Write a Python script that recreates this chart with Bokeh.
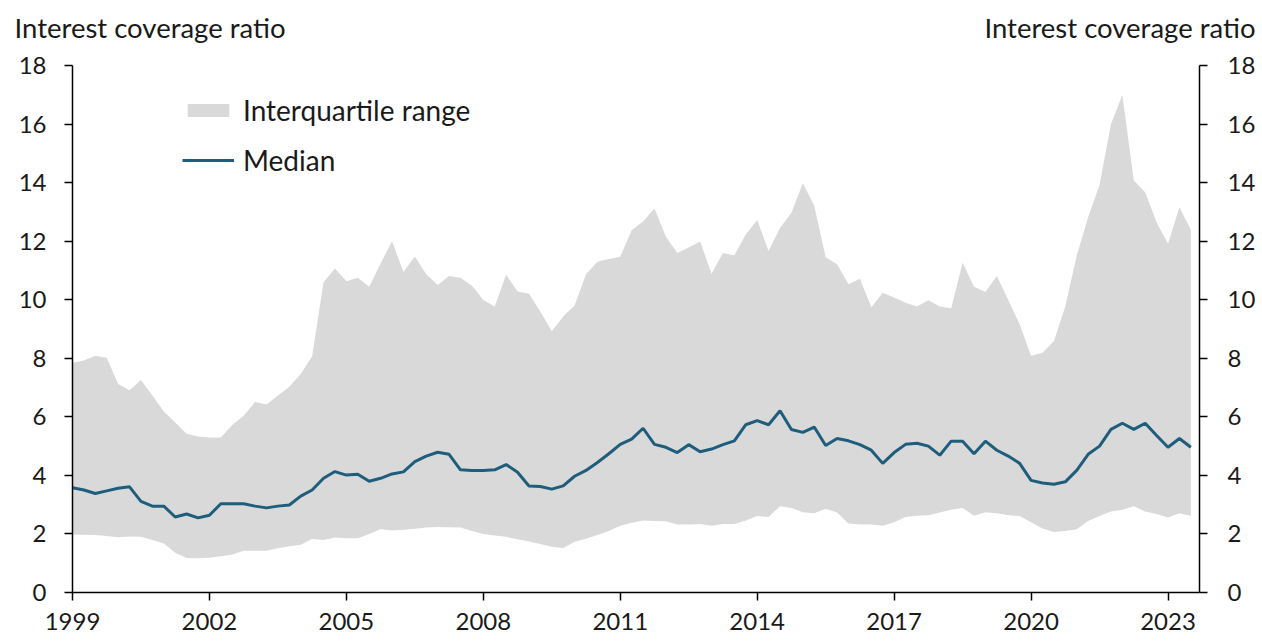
from bokeh.plotting import figure
from bokeh.layouts import column, row
from bokeh.models import (LinearAxis, FixedTicker, Range1d, Legend, LegendItem,
                          Title, ColumnDataSource)
from bokeh.embed import file_html
from bokeh.resources import INLINE

# ---- data (quarterly, 1999 Q1 .. 2023 Q3) ----
start_year = 1999
n_quarters = 99
upper = [7.85, 7.92, 8.09, 8.02, 7.12, 6.91, 7.26, 6.73, 6.18, 5.81,
         5.42, 5.33, 5.29, 5.29, 5.72, 6.04, 6.51, 6.42, 6.73, 7.03,
         7.46, 8.07, 10.60, 11.07, 10.63, 10.75,
         10.44, 11.24, 12.0, 10.95, 11.48, 10.87, 10.5, 10.81, 10.75, 10.48,
         9.99, 9.77, 10.85, 10.28, 10.2, 9.59, 8.92, 9.43, 9.8, 10.87,
         11.3, 11.39, 11.47, 12.37,
         12.67, 13.12, 12.15, 11.60, 11.78, 11.99, 10.89, 11.60, 11.52, 12.23,
         12.72, 11.66, 12.45, 12.97, 13.98, 13.21, 11.45, 11.21, 10.53, 10.72,
         9.74, 10.24, 10.08, 9.90, 9.77,
         9.98, 9.77, 9.71, 11.26, 10.44, 10.26, 10.81, 9.99, 9.16,
         8.09, 8.19, 8.58, 9.77, 11.50, 12.82, 13.92, 15.99, 17.0, 14.07,
         13.67, 12.64, 11.91, 13.16, 12.39]
median = [3.58, 3.50, 3.38, 3.47, 3.56, 3.61, 3.11, 2.95, 2.95, 2.58,
          2.68, 2.55, 2.64, 3.03, 3.03, 3.03, 2.95, 2.89, 2.95, 2.99,
          3.29, 3.50, 3.90, 4.13, 4.01, 4.04,
          3.80, 3.90, 4.05, 4.12, 4.47, 4.66, 4.79, 4.72, 4.19, 4.17,
          4.17, 4.19, 4.37, 4.11, 3.64, 3.62, 3.53, 3.64, 3.97, 4.17,
          4.44, 4.74, 5.06, 5.24,
          5.61, 5.06, 4.96, 4.78, 5.05, 4.81, 4.90, 5.05, 5.18, 5.73,
          5.87, 5.73, 6.21, 5.57, 5.47, 5.65, 5.02, 5.26, 5.18, 5.05,
          4.86, 4.41, 4.78, 5.06, 5.10,
          5.00, 4.69, 5.17, 5.17, 4.74, 5.17, 4.86, 4.66, 4.41, 3.83,
          3.74, 3.70, 3.78, 4.17, 4.72, 5.00, 5.57, 5.78, 5.57, 5.78,
          5.36, 4.96, 5.26, 4.96]
lower = [1.97, 1.97, 1.96, 1.93, 1.89, 1.91, 1.90, 1.79, 1.67, 1.36,
         1.18, 1.17, 1.19, 1.24, 1.30, 1.43, 1.43, 1.43, 1.51, 1.58,
         1.63, 1.83, 1.79, 1.88, 1.85, 1.85,
         2.00, 2.17, 2.12, 2.14, 2.18, 2.22, 2.24, 2.23, 2.22, 2.10,
         2.00, 1.95, 1.90, 1.82, 1.74, 1.66, 1.56, 1.52, 1.73, 1.84,
         1.96, 2.10, 2.28, 2.38,
         2.46, 2.44, 2.43, 2.32, 2.32, 2.34, 2.28, 2.34, 2.34, 2.46,
         2.61, 2.58, 2.95, 2.89, 2.74, 2.71, 2.86, 2.73, 2.36, 2.32,
         2.32, 2.28, 2.40, 2.58, 2.62,
         2.64, 2.73, 2.83, 2.89, 2.62, 2.74, 2.71, 2.64, 2.61, 2.40,
         2.19, 2.07, 2.10, 2.16, 2.44, 2.61, 2.77, 2.83, 2.95, 2.77,
         2.68, 2.56, 2.71, 2.62]
x_ticks = [1999, 2002, 2005, 2008, 2011, 2014, 2017, 2020, 2023]
y_ticks = [0, 2, 4, 6, 8, 10, 12, 14, 16, 18]
axis_title = "Interest coverage ratio"
band_label = "Interquartile range"
median_label = "Median"

dates = [start_year + q / 4 for q in range(n_quarters)]
src = ColumnDataSource(dict(x=dates, upper=upper, lower=lower, median=median))

FONT = "Lato"
FS_TICK = "24px"
FS_TEXT = "28px"
FS_TITLE = "27.5px"
BAND = "#d9d9d9"
LINE = "#1f5d7c"
TXT = "#1a1a1a"
W = 1262
HEAD_H = 46


def header(width, align, offset):
    h = figure(width=width, height=HEAD_H, output_backend="svg",
               toolbar_location=None, x_range=Range1d(0, 1), y_range=Range1d(0, 1),
               min_border_left=0, min_border_right=0, min_border_bottom=0,
               min_border_top=43, x_axis_location=None, y_axis_location=None)
    h.outline_line_color = None
    h.xgrid.visible = False
    h.ygrid.visible = False
    h.add_layout(Title(text=axis_title, align=align, offset=offset, standoff=0,
                       text_font=FONT, text_font_size=FS_TITLE, text_color=TXT,
                       text_font_style="normal"), "above")
    return h


head_left = header(631, "left", 14)
head_right = header(W - 631 - 7, "right", 0)

# ---- main chart ----
p = figure(width=W, height=641 - HEAD_H, output_backend="svg",
           toolbar_location=None,
           x_range=Range1d(1999.0, 2023.69), y_range=Range1d(0, 18),
           min_border_left=72, min_border_right=63, min_border_top=65 - HEAD_H,
           min_border_bottom=49, x_axis_location=None, y_axis_location=None)
p.outline_line_color = None
p.xgrid.visible = False
p.ygrid.visible = False
p.background_fill_color = "white"
p.border_fill_color = "white"

band = p.varea(x="x", y1="lower", y2="upper", source=src, fill_color=BAND)
med = p.line(x="x", y="median", source=src, line_color=LINE, line_width=3)


def style_axis(ax):
    ax.axis_line_color = "black"
    ax.axis_line_width = 1.5
    ax.major_tick_line_color = "black"
    ax.major_tick_line_width = 1.5
    ax.major_tick_out = 8
    ax.major_tick_in = 0
    ax.minor_tick_line_color = None
    ax.major_label_text_font = FONT
    ax.major_label_text_font_size = FS_TICK
    ax.major_label_text_color = TXT


left = LinearAxis(ticker=FixedTicker(ticks=y_ticks))
right = LinearAxis(ticker=FixedTicker(ticks=y_ticks))
bottom = LinearAxis(ticker=FixedTicker(ticks=x_ticks))
for ax in (left, right, bottom):
    style_axis(ax)
left.major_label_standoff = 18
right.major_label_standoff = 20
bottom.major_label_standoff = 12
bottom.major_label_overrides = {t: str(t) for t in x_ticks}
p.add_layout(left, "left")
p.add_layout(right, "right")
p.add_layout(bottom, "below")

legend = Legend(items=[LegendItem(label=band_label, renderers=[band]),
                       LegendItem(label=median_label, renderers=[med])],
                location=(110, 415), orientation="vertical",
                glyph_width=52, glyph_height=16, label_height=30,
                label_standoff=9, spacing=16, padding=0, margin=0,
                label_text_font=FONT, label_text_font_size=FS_TEXT,
                label_text_color=TXT,
                border_line_color=None, background_fill_alpha=0)
p.add_layout(legend)

layout = column(row(head_left, head_right, spacing=0), p, spacing=0)
open("out.html", "w").write(file_html(layout, INLINE))
